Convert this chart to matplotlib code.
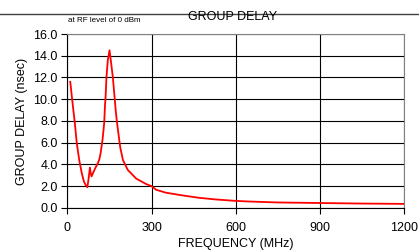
import matplotlib
matplotlib.use("Agg")
import matplotlib.pyplot as plt

plt.rcParams['font.family'] = ['Liberation Sans', 'DejaVu Sans']

# group delay
freq_mhz = [10, 15, 21, 26, 33, 42, 51, 59, 65, 71, 76, 80, 83, 86, 92, 98, 104, 109, 114,
            118, 125, 131, 134, 136, 139, 144, 150, 155, 162, 167, 172, 176, 180, 188, 198,
            215, 245, 280, 300, 316, 351, 410, 469, 528, 597, 646, 749, 900, 1050, 1200]
delay_ns = [11.6, 10.4, 9.0, 7.9, 6.0, 4.4, 3.2, 2.4, 2.1, 1.9, 2.8, 3.7, 3.2, 2.9, 3.25, 3.6, 3.9, 4.15, 4.5,
            5.0, 6.25, 7.8, 9.5, 10.2, 12.0, 13.6, 14.5, 13.5, 12.0, 10.5, 9.0, 8.0, 7.2, 5.6, 4.4,
            3.5, 2.7, 2.2, 2.0, 1.67, 1.4, 1.15, 0.93, 0.78, 0.65, 0.59, 0.5, 0.45, 0.4, 0.37]

xticks = [0, 300, 600, 900, 1200]
yticks = [0, 2, 4, 6, 8, 10, 12, 14, 16]

fig = plt.figure(figsize=(4.19, 2.52), dpi=100)
ax = fig.add_axes([0.161, 0.175, 0.803, 0.690])

ax.plot(freq_mhz, delay_ns, color='#ff0000', lw=1.3, zorder=3)

ax.set_xlim(0, 1200)
ax.set_ylim(0, 16)
ax.set_xticks(xticks)
ax.set_yticks(yticks)
ax.set_yticklabels([f"{v:.1f}" for v in yticks])
ax.grid(True, color='black', lw=0.8)
ax.tick_params(labelsize=9, length=4, width=0.8, direction='out', pad=3)
ax.tick_params(axis='x', pad=6)
for side in ['top', 'right']:
    ax.spines[side].set_color('#808080')
for side in ['left', 'bottom']:
    ax.spines[side].set_color('black')

ax.set_ylabel('GROUP DELAY (nsec)', fontsize=9, labelpad=4)
fig.text(0.563, 0.032, 'FREQUENCY (MHz)', ha='center', va='center', fontsize=9)

# header rule and title
fig.add_artist(plt.Line2D([0, 1], [0.944, 0.944], color='#404040', lw=1.0,
                          transform=fig.transFigure))
fig.text(0.556, 0.934, 'GROUP DELAY', ha='center', va='center', fontsize=9)
fig.text(0.163, 0.918, 'at RF level of 0 dBm', ha='left', va='center', fontsize=5.8)

fig.savefig('out.png', dpi=100)
